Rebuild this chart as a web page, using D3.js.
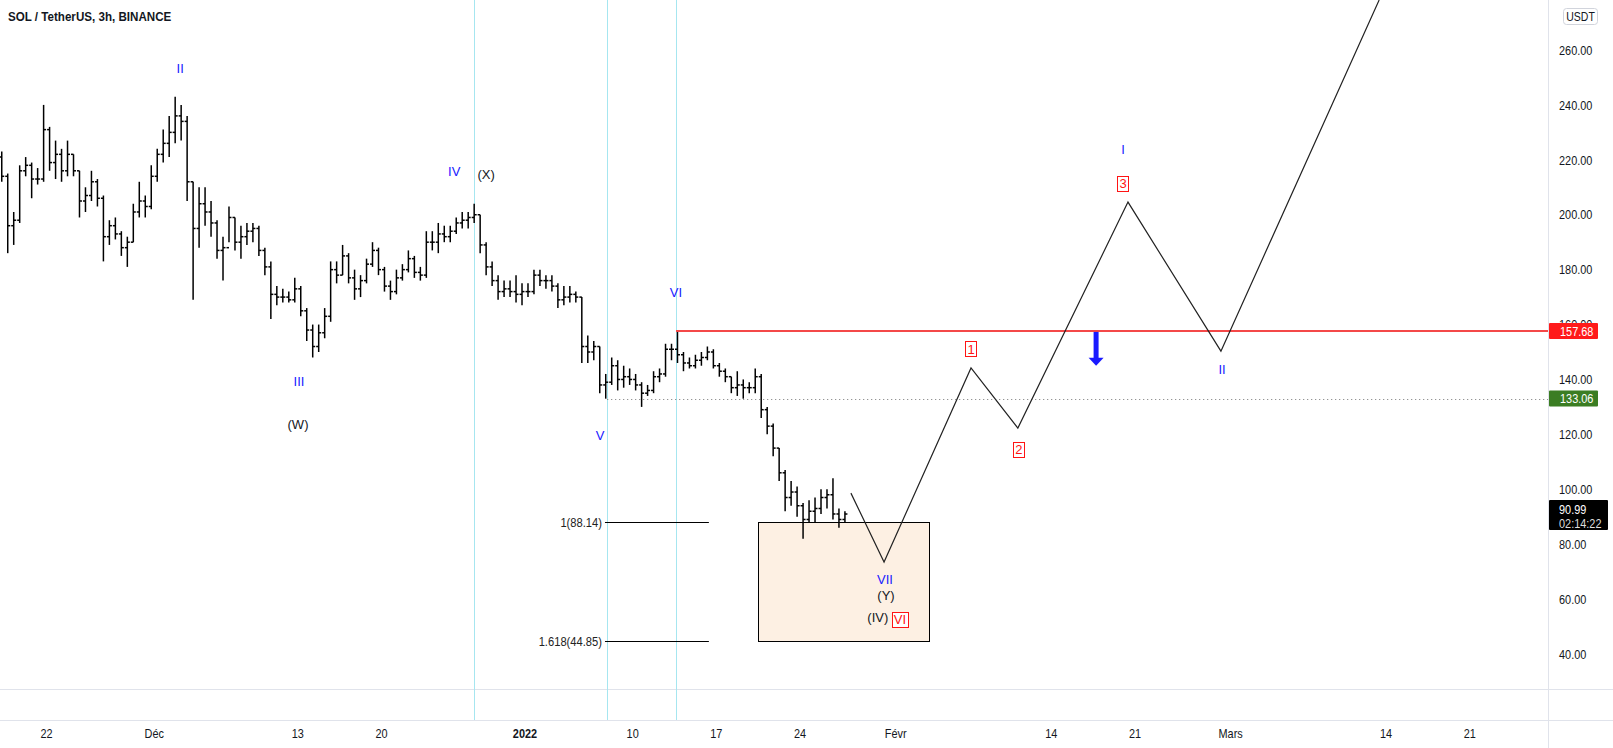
<!DOCTYPE html>
<html><head><meta charset="utf-8">
<script src="https://cdn.jsdelivr.net/npm/d3@7"></script>
<style>
html,body{margin:0;padding:0;background:#fff;overflow:hidden}
svg{display:block}
text{font-family:"Liberation Sans",Arial,sans-serif}
</style></head><body>
<svg id="c" width="1613" height="748"></svg>
<script>
// ---------- DATA ----------
const title = "SOL / TetherUS, 3h, BINANCE";
const barStart = "2021-11-18T00:00:00Z";   // first bar open time
const barHours = 12;
const firstOpen = 221;
const highs = [223,215,201,218,221,219,217,240,232,227,224,227,222,216,210,216,213,207,198,199,
  194,192,204,212,207,218,224,231,236,243,240,236,212,210,210,205,198,192,203,199,
  196,197,197,196,188,183,174,173,172,177,174,166,160,160,166,183,183,189,186,180,
  178,184,190,188,181,176,180,182,187,185,181,194,194,197,196,196,199,201,201,204,
  200,190,183,178,176,176,178,175,175,180,180,178,178,175,174,174,172,170,156,154,
  152,142,148,147,145,144,142,139,138,143,144,153,153,157.68,150,148,149,150,152,151,
  146,144,141,143,140,139,144,142,130,124,115,107,103,101,95,96,97,100,100,104,93,92];
const lows = [212,186,189,197,214,206,211,212,216,213,212,214,214,199,201,205,203,183,189,191,
  185,181,190,199,199,202,212,219,221,226,227,205,169,188,196,192,184,176,190,187,
  184,189,190,185,178,162,167,168,168,168,163,154,148,150,155,161,175,178,175,169,
  170,175,181,178,172,169,171,176,179,177,176,177,187,186,190,190,193,195,195,197,
  186,178,174,169,170,170,168,167,170,171,174,173,172,166,167,168,168,146,146,147,
  135,133,138,136,137,138,136,130,134,135,139,141,147,146,143,144,144,145,147,144,
  141,139,135,134,133,135,135,126,120,112,103,92,94,90,82,88,88,91,93,89,86,88];
const closes = [214,196,198,216,218,213,213,231,219,222,216,222,216,205,207,212,206,192,196,193,
  188,190,201,205,203,214,222,226,230,236,234,212,195,204,201,197,187,188,199,190,
  192,194,195,187,181,171,170,170,169,173,165,158,152,157,163,180,178,185,177,173,
  176,182,187,180,174,172,177,180,184,179,178,190,190,193,192,194,197,198,199,200,
  189,181,176,172,173,172,171,172,172,178,176,176,174,169,170,171,170,152,150,152,
  138,139,145,140,141,140,138,135,136,141,142,151,151,149,146,145,147,148,150,145,
  143,141,137,138,137,137,141,129,123,115,106,97,99,94,89,92,93,97,98,91,89,90.99];

const yTicks = [40,60,80,100,120,140,160,180,200,220,240,260];
const xTickDates  = ["2021-11-22","2021-12-01","2021-12-13","2021-12-20","2022-01-01","2022-01-10","2022-01-17","2022-01-24","2022-02-01","2022-02-14","2022-02-21","2022-03-01","2022-03-14","2022-03-21"];
const xTickLabels = ["22","Déc","13","20","2022","10","17","24","Févr","14","21","Mars","14","21"];

const cyanLineDates = ["2021-12-27T18:00Z","2022-01-07T21:00Z","2022-01-13T15:00Z"];

const projDates  = ["2022-01-28T06:00Z","2022-01-31T00:30Z","2022-02-07T07:00Z","2022-02-11T05:00Z","2022-02-20T10:00Z","2022-02-28T04:30Z","2022-03-13T10:00Z"];
const projPrices = [98.6, 73.5, 144.2, 122.3, 204.6, 150.3, 278.2];

const resistPrice = 157.68, resistFrom = "2022-01-13T15:00Z";
const supportPrice = 133.06, supportFrom = "2022-01-07T21:00Z";
const lastPrice = "90.99", countdown = "02:14:22";

const fibLevels = [88.14, 44.85];
const fibLabels = ["1(88.14)", "1.618(44.85)"];
const fibFrom = "2022-01-07T16:30Z", fibTo = "2022-01-16T09:00Z";
const zoneFrom = "2022-01-20T11:30Z", zoneTo = "2022-02-03T18:40Z";

// wave labels: text, date, price, kind (blue / black / redbox)
const waveText  = ["II","IV","(X)","III","(W)","VI","V","VII","(Y)","(IV)","VI","1","2","3","I","II"];
const waveDates = ["2021-12-03T04:00Z","2021-12-26T02:00Z","2021-12-28T18:00Z","2021-12-13T02:30Z","2021-12-13T00:30Z","2022-01-13T15:00Z","2022-01-07T06:30Z","2022-01-31T02:30Z","2022-01-31T04:30Z","2022-01-30T12:00Z","2022-02-01T08:30Z","2022-02-07T07:00Z","2022-02-11T07:00Z","2022-02-20T00:00Z","2022-02-20T00:00Z","2022-02-28T06:45Z"];
const wavePrices= [253.4, 215.9, 214.8, 139.4, 123.8, 171.8, 119.7, 67.3, 61.5, 53.4, 52.7, 151.1, 114.6, 211.5, 223.9, 143.8];
const waveKind  = ["blue","blue","black","blue","black","blue","blue","blue","black","black","red","red","red","red","blue","blue"];

const arrowDate = "2022-02-17T18:00Z", arrowFrom = 157.3, arrowTo = 145.0;

// ---------- DRAW ----------
const W = 1613, H = 748;
const plotRight = 1548, paneBottom = 689, axisTop = 720;
const svg = d3.select("#c");
const x = d3.scaleUtc().domain([new Date("2021-11-18T00:00Z"), new Date("2022-03-28T00:00Z")]).range([-1.24, 1553.56]);
const y = d3.scaleLinear().domain([40, 260]).range([654, 50]);

const C_TEXT = "#131722", C_GRID = "#e0e3eb", C_BLUE = "#1a1aff", C_RED = "#ff1414";
const SQ = 0.84; // horizontal condensing of UI text

function ctext(parent, px, py, str, size, opts = {}){
  const t = parent.append("text")
    .attr("transform", `translate(${px},${py}) scale(${opts.sq ?? SQ},1)`)
    .attr("dy","0.36em").attr("font-size",size)
    .attr("fill", opts.fill || C_TEXT)
    .attr("text-anchor", opts.anchor || "start")
    .text(str);
  if (opts.bold) t.attr("font-weight","bold");
  return t;
}

svg.append("defs").append("clipPath").attr("id","pane")
  .append("rect").attr("x",0).attr("y",0).attr("width",plotRight).attr("height",paneBottom);

// pane separators
svg.append("line").attr("x1",0).attr("x2",W).attr("y1",paneBottom+0.5).attr("y2",paneBottom+0.5).attr("stroke",C_GRID);
svg.append("line").attr("x1",0).attr("x2",W).attr("y1",axisTop+0.5).attr("y2",axisTop+0.5).attr("stroke",C_GRID);
svg.append("line").attr("x1",plotRight+0.5).attr("x2",plotRight+0.5).attr("y1",0).attr("y2",H).attr("stroke",C_GRID);

// cyan vertical lines
svg.append("g").selectAll("line").data(cyanLineDates).join("line")
  .attr("x1",d=>Math.round(x(new Date(d)))+0.5).attr("x2",d=>Math.round(x(new Date(d)))+0.5)
  .attr("y1",0).attr("y2",axisTop).attr("stroke","#a6e6f0").attr("stroke-width",1);

const main = svg.append("g").attr("clip-path","url(#pane)");

// zone box
main.append("rect")
  .attr("x",Math.round(x(new Date(zoneFrom)))+0.5).attr("y",Math.round(y(fibLevels[0]))+0.5)
  .attr("width",Math.round(x(new Date(zoneTo))-x(new Date(zoneFrom))))
  .attr("height",Math.round(y(fibLevels[1])-y(fibLevels[0])))
  .attr("fill","#fdf0e3").attr("stroke","#000").attr("stroke-width",1);

// fib lines
fibLevels.forEach((p,i)=>{
  const yy = Math.round(y(p))+0.5;
  main.append("line").attr("x1",x(new Date(fibFrom))).attr("x2",x(new Date(fibTo)))
    .attr("y1",yy).attr("y2",yy).attr("stroke","#000").attr("stroke-width",1);
  ctext(main, x(new Date(fibFrom))-3, yy, fibLabels[i], 13, {anchor:"end", fill:"#222", sq:0.86});
});

// support dotted line
main.append("line").attr("x1",x(new Date(supportFrom))).attr("x2",plotRight)
  .attr("y1",Math.round(y(supportPrice))+0.5).attr("y2",Math.round(y(supportPrice))+0.5)
  .attr("stroke","#777").attr("stroke-width",1).attr("stroke-dasharray","1,3");

// OHLC bars
const t0 = new Date(barStart).getTime();
const bars = highs.map((h,i)=>({
  t: new Date(t0 + (i*barHours + barHours/2)*3600e3),
  o: i===0 ? firstOpen : closes[i-1], h, l: lows[i], c: closes[i]
}));
const bg = main.append("g").attr("stroke","#000").attr("stroke-width",1.5).attr("fill","none");
bars.forEach(b=>{
  const cx = x(b.t);
  bg.append("line").attr("x1",cx).attr("x2",cx).attr("y1",y(b.h)).attr("y2",y(b.l));
  bg.append("line").attr("x1",cx-2.5).attr("x2",cx).attr("y1",y(b.o)).attr("y2",y(b.o));
  bg.append("line").attr("x1",cx).attr("x2",cx+2.5).attr("y1",y(b.c)).attr("y2",y(b.c));
});

// resistance line
main.append("line").attr("x1",x(new Date(resistFrom))).attr("x2",plotRight)
  .attr("y1",y(resistPrice)).attr("y2",y(resistPrice))
  .attr("stroke","#f44848").attr("stroke-width",2);

// projected wave path
const proj = projDates.map((d,i)=>[x(new Date(d)), y(projPrices[i])]);
main.append("path").attr("d",d3.line()(proj)).attr("fill","none").attr("stroke","#222").attr("stroke-width",1.2);

// wave labels
waveText.forEach((t,i)=>{
  const px = x(new Date(waveDates[i])), py = y(wavePrices[i]);
  const k = waveKind[i];
  const tx = main.append("text").attr("x",px).attr("y",py).attr("dy","0.36em")
    .attr("text-anchor","middle").attr("font-size",13)
    .attr("fill", k==="blue"?C_BLUE : k==="red"?C_RED : C_TEXT)
    .text(t);
  if(k==="red"){
    const bb = tx.node().getBBox();
    main.insert("rect","text").attr("x",Math.round(bb.x-2)+0.5).attr("y",Math.round(py-7.5)+0.5)
      .attr("width",Math.round(bb.width+4)).attr("height",15)
      .attr("fill","#fff").attr("stroke",C_RED).attr("stroke-width",1);
  }
});

// blue arrow
{
  const ax = x(new Date(arrowDate)), y1 = y(arrowFrom), y2 = y(arrowTo);
  main.append("rect").attr("x",ax-2.5).attr("y",y1).attr("width",5).attr("height",(y2-y1)-6).attr("fill",C_BLUE);
  main.append("path").attr("d",`M${ax-7.5},${y2-8} L${ax+7.5},${y2-8} L${ax},${y2} Z`).attr("fill",C_BLUE);
}

// title
ctext(svg, 8, 16, title, 13.5, {bold:true, sq:0.86});

// right axis tick labels
const ya = svg.append("g");
yTicks.forEach(v=> ctext(ya, 1559, y(v), v.toFixed(2), 13));

// USDT badge
svg.append("rect").attr("x",1563.5).attr("y",8.5).attr("width",34).attr("height",16).attr("rx",3)
  .attr("fill","#fff").attr("stroke","#d1d4dc");
ctext(svg, 1580.5, 16.5, "USDT", 12.5, {anchor:"middle"});

function axisBadge(price, label, fill){
  const cy = y(price);
  svg.append("rect").attr("x",1549).attr("y",cy-8).attr("width",49).attr("height",16).attr("rx",1).attr("fill",fill);
  ctext(svg, 1560, cy, label, 13, {fill:"#fff"});
}
axisBadge(resistPrice, resistPrice.toFixed(2), "#ff1a1a");
axisBadge(supportPrice, supportPrice.toFixed(2), "#3b7d23");
// last price badge
{
  const cy = y(+lastPrice);
  svg.append("rect").attr("x",1549).attr("y",cy-14).attr("width",59).attr("height",30).attr("rx",1).attr("fill","#000");
  ctext(svg, 1559, cy-5, lastPrice, 13, {fill:"#fff"});
  ctext(svg, 1559, cy+9, countdown, 13, {fill:"#ddd"});
}

// bottom time axis
xTickDates.forEach((d,i)=>{
  ctext(svg, x(new Date(d+"T00:00Z")), 733, xTickLabels[i], 13,
    {anchor:"middle", bold: xTickLabels[i]==="2022"});
});
</script>
</body></html>
